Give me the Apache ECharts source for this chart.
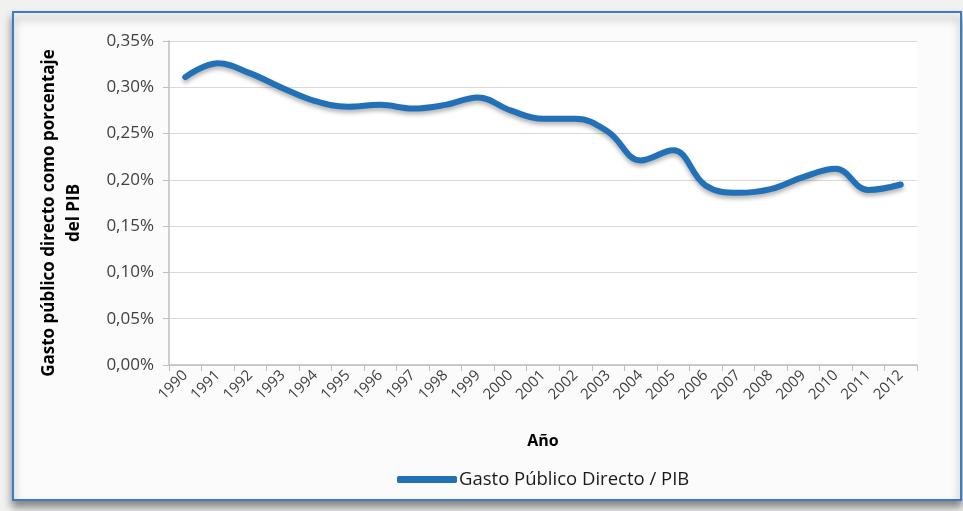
<!DOCTYPE html>
<html lang="es">
<head>
<meta charset="utf-8">
<title>Gasto Público Directo / PIB</title>
<script src="https://cdn.jsdelivr.net/npm/echarts@6/dist/echarts.min.js"></script>
<style>
  html, body { margin: 0; padding: 0; background: #f1f1f1; }
  #chart { width: 963px; height: 511px; }
</style>
</head>
<body>
<div id="chart"></div>
<script>
// años y gasto (% del PIB)
var years = ['1990', '1991', '1992', '1993', '1994', '1995', '1996', '1997', '1998', '1999', '2000', '2001',
             '2002', '2003', '2004', '2005', '2006', '2007', '2008', '2009', '2010', '2011', '2012'];
var gasto = [0.311, 0.326, 0.315, 0.299, 0.285, 0.279, 0.281, 0.277, 0.281, 0.289, 0.275, 0.266,
             0.266, 0.252, 0.221, 0.232, 0.194, 0.186, 0.190, 0.203, 0.212, 0.189, 0.195];
var yTicks = [0, 0.05, 0.10, 0.15, 0.20, 0.25, 0.30, 0.35];

var fontFam = '"Open Sans", "Noto Sans", sans-serif';
var chart = echarts.init(document.getElementById('chart'));

var option = {
    backgroundColor: '#f1f1f1',
    animation: false,
    graphic: [{
        type: 'rect',
        z: -10,
        shape: { x: 13, y: 12, width: 948, height: 488 },
        style: {
            fill: '#fbfbfb',
            stroke: '#3d7cc2',
            lineWidth: 2,
            shadowColor: 'rgba(0,0,0,0.45)',
            shadowBlur: 8,
            shadowOffsetY: 6
        }
    }],
    grid: {
        left: 169, right: 46, top: 41, bottom: 146,
        show: true, backgroundColor: '#ffffff', borderWidth: 0
    },
    legend: {
        top: 465,
        left: 392,
        icon: 'roundRect',
        itemWidth: 60,
        itemHeight: 7,
        itemGap: 4,
        textStyle: { fontFamily: fontFam, fontSize: 18.5, color: '#1a1a1a', padding: [0, 0, 0, -3] }
    },
    xAxis: {
        type: 'category',
        data: years,
        boundaryGap: true,
        name: 'Año',
        nameLocation: 'middle',
        nameGap: 68,
        nameTextStyle: { fontFamily: fontFam, fontSize: 16, fontWeight: 'bold', color: '#000' },
        axisLine: { lineStyle: { color: '#bfbfbf', width: 1.5 } },
        axisTick: { show: true, length: 6, lineStyle: { color: '#bfbfbf' } },
        axisLabel: {
            rotate: 45, interval: 0, margin: 8,
            fontFamily: fontFam, fontSize: 15, color: '#404040'
        }
    },
    yAxis: {
        type: 'value',
        min: 0, max: 0.35, interval: 0.05,
        name: 'Gasto público directo como porcentaje\ndel PIB',
        nameLocation: 'middle',
        nameGap: 82,
        nameTextStyle: {
            fontFamily: fontFam, fontSize: 17, fontWeight: 'bold', color: '#000',
            lineHeight: 25, padding: [0, 20, 0, 0]
        },
        axisLine: { show: true, lineStyle: { color: '#bfbfbf', width: 1.5 } },
        axisTick: { show: true, length: 6, lineStyle: { color: '#bfbfbf' } },
        splitLine: { lineStyle: { color: '#d9d9d9' } },
        axisLabel: {
            margin: 15,
            fontFamily: fontFam, fontSize: 17, color: '#404040',
            formatter: function (v) {
                var t = yTicks.reduce(function (a, b) { return Math.abs(b - v) < Math.abs(a - v) ? b : a; });
                return t.toFixed(2).replace('.', ',') + '%';
            }
        }
    },
    series: [{
        name: 'Gasto Público Directo / PIB',
        type: 'line',
        data: gasto,
        smooth: 0.4,
        symbol: 'none',
        itemStyle: { color: '#2170b8' },
        lineStyle: {
            color: '#2170b8', width: 6, cap: 'round',
            shadowColor: 'rgba(0,0,0,0.3)', shadowBlur: 4, shadowOffsetY: 3
        }
    }]
};
chart.setOption(option);
</script>
</body>
</html>
